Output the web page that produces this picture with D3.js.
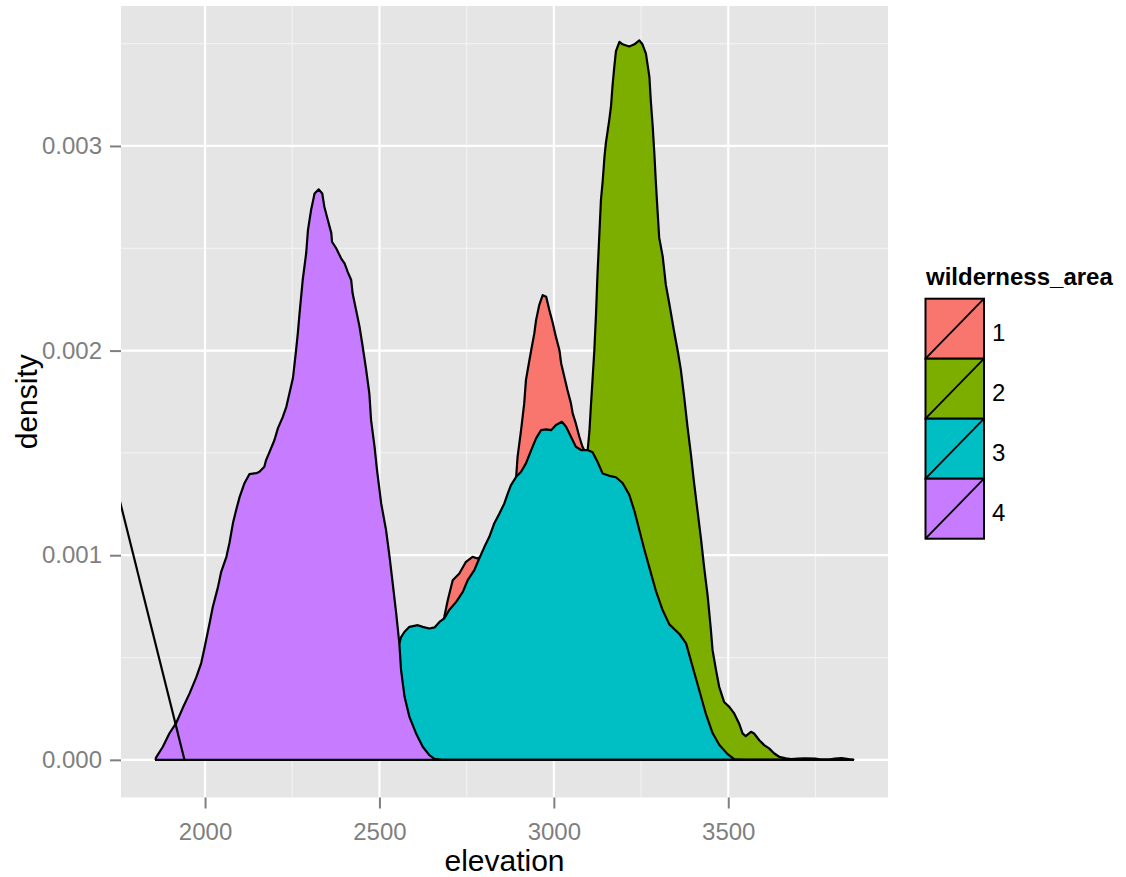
<!DOCTYPE html>
<html>
<head>
<meta charset="utf-8">
<script src="https://cdn.jsdelivr.net/npm/d3@7"></script>
<style>
  html, body { margin: 0; padding: 0; background: #ffffff; }
  svg { display: block; font-family: "Liberation Sans", Arial, Helvetica, sans-serif; }
</style>
</head>
<body>
<svg id="chart" width="1126" height="877"></svg>
<script>
// ---------------- data ----------------
const groups = ["1", "2", "3", "4"];
const groupColors = ["#F8766D", "#7CAE00", "#00BFC4", "#C77CFF"];

const xTicks = [2000, 2500, 3000, 3500];
const xMinorTicks = [2250, 2750, 3250, 3750];
const yTicks = [0, 0.001, 0.002, 0.003];
const yTickLabels = ["0.000", "0.001", "0.002", "0.003"];
const yMinorTicks = [0.0005, 0.0015, 0.0025, 0.0035];

const elevationRange = [1859, 3858];
const densityRange = [-0.000184, 0.003684];

// [elevation, density]
const area1 = [[1859,0],[2400,0],[2450,0.00002],[2500,0.00008],[2550,0.0002],[2600,0.00035],[2650,0.0005],[2680,0.00066],
  [2686,0.000699],[2696,0.000781],[2710,0.000878],[2729,0.000911],[2748,0.000968],[2767,0.000992],[2781,0.000984],
  [2800,0.001],[2830,0.00108],[2860,0.0012],[2885,0.00133],[2892,0.001383],[2896,0.001481],[2906,0.001611],[2915,0.001742],
  [2920,0.001856],[2930,0.001954],[2935,0.002002],[2944,0.002084],[2949,0.002149],[2958,0.002222],[2968,0.002271],
  [2978,0.002263],[2987,0.002198],[2996,0.002141],[3006,0.002067],[3016,0.002002],[3021,0.001937],[3030,0.001872],
  [3039,0.001807],[3049,0.001742],[3054,0.001693],[3063,0.001644],[3073,0.001579],[3082,0.00153],[3087,0.001514],
  [3100,0.00142],[3111,0.00133],[3130,0.00115],[3160,0.00095],[3200,0.00075],[3250,0.00055],[3300,0.00038],[3350,0.00025],
  [3400,0.00015],[3450,0.00008],[3500,0.00004],[3550,0.00002],[3600,0.000008],[3650,0],[3858,0]];

const area2 = [[1859,0],[2700,0],[2800,0.00003],[2900,0.00015],[3000,0.00045],[3050,0.0008],[3075,0.0011],[3090,0.00138],
  [3097,0.001514],[3102,0.001606],[3106,0.001724],[3111,0.001861],[3116,0.001999],[3121,0.002183],[3125,0.002368],
  [3130,0.002552],[3135,0.002737],[3140,0.002828],[3145,0.002944],[3149,0.003013],[3159,0.003129],[3164,0.003197],
  [3168,0.00329],[3173,0.003382],[3178,0.003463],[3188,0.003509],[3197,0.003497],[3216,0.003486],[3231,0.003497],
  [3245,0.003516],[3254,0.003497],[3264,0.003451],[3274,0.003336],[3278,0.00322],[3283,0.003106],[3288,0.002967],
  [3293,0.002805],[3297,0.002691],[3302,0.002552],[3312,0.00246],[3321,0.002322],[3331,0.002229],[3345,0.002091],
  [3355,0.001999],[3364,0.001907],[3374,0.001768],[3383,0.00163],[3393,0.001492],[3402,0.001353],[3412,0.001215],
  [3422,0.001077],[3431,0.000938],[3441,0.0008],[3450,0.000639],[3455,0.000536],[3465,0.000438],[3474,0.000357],
  [3488,0.000283],[3503,0.000259],[3517,0.000227],[3531,0.000178],[3541,0.000129],[3550,0.000116],[3565,0.000137],
  [3574,0.000129],[3589,0.000096],[3603,0.000072],[3617,0.000056],[3632,0.000031],[3646,0.000015],[3665,0.000007],
  [3680,0.000004],[3700,0.000006],[3720,0.000007],[3750,0.000006],[3765,0.000001],[3790,0.000001],[3805,0.000006],
  [3825,0.000008],[3840,0.000005],[3850,0.000001],[3858,0]];

const area3 = [[1859,0],[2420,0],[2460,0.00005],[2500,0.0002],[2530,0.00038],[2548,0.00052],[2557,0.000569],[2562,0.0006],
  [2572,0.000626],[2586,0.00065],[2610,0.000658],[2624,0.00065],[2643,0.000642],[2658,0.000647],[2672,0.000674],
  [2686,0.000691],[2700,0.000732],[2720,0.000772],[2739,0.000821],[2753,0.000878],[2772,0.000927],[2786,0.000984],
  [2801,0.001041],[2815,0.00109],[2829,0.001155],[2844,0.001204],[2858,0.001253],[2868,0.001302],[2877,0.001343],
  [2892,0.001383],[2906,0.001408],[2920,0.001449],[2935,0.001514],[2949,0.001571],[2963,0.001611],[2978,0.001615],
  [2992,0.001611],[3006,0.001636],[3023,0.001652],[3035,0.001628],[3049,0.001579],[3063,0.00153],[3078,0.001514],
  [3097,0.001514],[3111,0.001503],[3125,0.001457],[3140,0.001399],[3159,0.001388],[3178,0.001381],[3197,0.001353],
  [3216,0.001296],[3231,0.001216],[3245,0.001123],[3259,0.00103],[3274,0.000938],[3293,0.000823],[3312,0.000731],
  [3331,0.000662],[3360,0.000615],[3379,0.000569],[3398,0.000454],[3417,0.000339],[3436,0.000223],[3455,0.000131],
  [3474,0.000074],[3498,0.000028],[3517,0.000003],[3546,0],[3858,0]];

const area4 = [[1859,0.00001],[1879,0.000064],[1898,0.00013],[1917,0.000179],[1936,0.000253],[1956,0.000326],
  [1975,0.000404],[1989,0.000473],[1999,0.000551],[2013,0.000668],[2022,0.000746],[2037,0.000844],[2046,0.000917],
  [2061,0.000991],[2070,0.00106],[2080,0.001157],[2089,0.00122],[2099,0.001284],[2113,0.001352],[2127,0.001396],
  [2147,0.001401],[2156,0.001408],[2170,0.001432],[2175,0.001465],[2185,0.001505],[2199,0.001563],[2209,0.001621],
  [2223,0.001676],[2233,0.001725],[2242,0.001792],[2252,0.001866],[2261,0.002002],[2266,0.002085],[2271,0.002183],
  [2280,0.002345],[2290,0.002477],[2295,0.002589],[2304,0.002687],[2314,0.002768],[2326,0.002788],[2336,0.002768],
  [2342,0.002703],[2352,0.002638],[2362,0.002574],[2364,0.002532],[2376,0.0025],[2390,0.002451],[2400,0.002426],
  [2409,0.002385],[2419,0.002345],[2423,0.00228],[2433,0.002198],[2443,0.002116],[2452,0.002019],[2462,0.001905],
  [2471,0.001791],[2476,0.00166],[2486,0.00153],[2493,0.001416],[2505,0.001253],[2519,0.001122],[2529,0.000992],
  [2538,0.000862],[2548,0.000716],[2557,0.000569],[2562,0.000438],[2572,0.000308],[2586,0.00021],[2605,0.000129],
  [2624,0.000064],[2643,0.000023],[2658,0.000005],[2680,0],[3858,0]];

const seriesData = [area1, area2, area3, area4];

// stray outline segment that enters the panel from the left edge
const strayLine = [[1700,0.001646],[1941,0]];

// ---------------- layout ----------------
const panel = { left: 121, right: 888, top: 6, bottom: 797.5 };
const svg = d3.select("#chart");

const xPad = 0.05 * (elevationRange[1] - elevationRange[0]);
const x = d3.scaleLinear()
  .domain([elevationRange[0] - xPad, elevationRange[1] + xPad])
  .range([panel.left, panel.right]);
const y = d3.scaleLinear().domain(densityRange).range([panel.bottom, panel.top]);

// panel background
svg.append("rect")
  .attr("x", panel.left).attr("y", panel.top)
  .attr("width", panel.right - panel.left).attr("height", panel.bottom - panel.top)
  .attr("fill", "#E5E5E5");

svg.append("defs").append("clipPath").attr("id", "clip")
  .append("rect")
  .attr("x", panel.left).attr("y", panel.top)
  .attr("width", panel.right - panel.left).attr("height", panel.bottom - panel.top);

const grid = svg.append("g");
grid.selectAll(".vmin").data(xMinorTicks).join("line")
  .attr("x1", d => x(d)).attr("x2", d => x(d))
  .attr("y1", panel.top).attr("y2", panel.bottom)
  .attr("stroke", "#F2F2F2").attr("stroke-width", 1.2);
grid.selectAll(".hmin").data(yMinorTicks).join("line")
  .attr("y1", d => y(d)).attr("y2", d => y(d))
  .attr("x1", panel.left).attr("x2", panel.right)
  .attr("stroke", "#F2F2F2").attr("stroke-width", 1.2);
grid.selectAll(".vmaj").data(xTicks).join("line")
  .attr("x1", d => x(d)).attr("x2", d => x(d))
  .attr("y1", panel.top).attr("y2", panel.bottom)
  .attr("stroke", "#FFFFFF").attr("stroke-width", 2.2);
grid.selectAll(".hmaj").data(yTicks).join("line")
  .attr("y1", d => y(d)).attr("y2", d => y(d))
  .attr("x1", panel.left).attr("x2", panel.right)
  .attr("stroke", "#FFFFFF").attr("stroke-width", 2.2);

// density areas
const plot = svg.append("g").attr("clip-path", "url(#clip)");
const line = d3.line().x(d => x(d[0])).y(d => y(d[1]));

seriesData.forEach((s, i) => {
  const poly = s.concat([[s[s.length - 1][0], 0], [s[0][0], 0]]);
  plot.append("path")
    .datum(poly)
    .attr("d", line(poly) + "Z")
    .attr("fill", groupColors[i])
    .attr("stroke", "#000")
    .attr("stroke-width", 2.2)
    .attr("stroke-linejoin", "round");
});

plot.append("path")
  .datum(strayLine)
  .attr("d", line)
  .attr("fill", "none")
  .attr("stroke", "#000")
  .attr("stroke-width", 2.2);

// axes
const tickColor = "#7F7F7F";
const yAxis = svg.append("g")
  .attr("transform", `translate(${panel.left},0)`)
  .call(d3.axisLeft(y).tickValues(yTicks).tickFormat((d, i) => yTickLabels[i]).tickSize(11).tickPadding(8));
const xAxis = svg.append("g")
  .attr("transform", `translate(0,${panel.bottom})`)
  .call(d3.axisBottom(x).tickValues(xTicks).tickFormat(d3.format("d")).tickSize(11).tickPadding(14));

[yAxis, xAxis].forEach(g => {
  g.select(".domain").remove();
  g.selectAll(".tick line").attr("stroke", tickColor).attr("stroke-width", 2);
  g.selectAll(".tick text")
    .attr("fill", tickColor)
    .style("font-size", "24px")
    .style("font-family", "'Liberation Sans', Arial, sans-serif");
});

// axis titles
svg.append("text")
  .attr("x", (panel.left + panel.right) / 2)
  .attr("y", 871)
  .attr("text-anchor", "middle")
  .style("font-size", "30px")
  .attr("fill", "#000")
  .text("elevation");

svg.append("text")
  .attr("transform", `translate(37,${(panel.top + panel.bottom) / 2}) rotate(-90)`)
  .attr("text-anchor", "middle")
  .style("font-size", "30px")
  .attr("fill", "#000")
  .text("density");

// legend
const legend = svg.append("g");
legend.append("text")
  .attr("x", 926).attr("y", 285)
  .style("font-size", "24px").style("font-weight", "bold")
  .attr("fill", "#000")
  .text("wilderness_area");

const keyX = 925.5, keyY = 298.7, keyW = 58.5, keyH = 60;
const keys = legend.selectAll(".key").data(groups).join("g")
  .attr("transform", (d, i) => `translate(${keyX},${keyY + i * keyH})`);
keys.append("rect")
  .attr("width", keyW).attr("height", keyH)
  .attr("fill", (d, i) => groupColors[i])
  .attr("stroke", "#000").attr("stroke-width", 2);
keys.append("line")
  .attr("x1", 0).attr("y1", keyH).attr("x2", keyW).attr("y2", 0)
  .attr("stroke", "#000").attr("stroke-width", 1.8);
keys.append("text")
  .attr("x", keyW + 8).attr("y", keyH / 2 + 4)
  .attr("dy", "0.35em")
  .style("font-size", "24px")
  .attr("fill", "#000")
  .text(d => d);
</script>
</body>
</html>
